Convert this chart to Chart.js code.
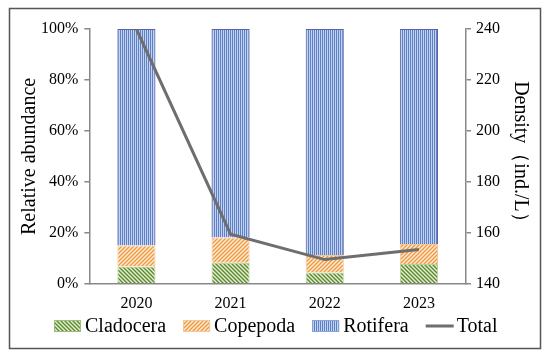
<!DOCTYPE html>
<html>
<head>
<meta charset="utf-8">
<script src="https://cdn.jsdelivr.net/npm/chart.js@4"></script>
<style>
  body { margin: 0; background: #fff; }
  #wrap { width: 550px; height: 359px; position: relative; }
</style>
</head>
<body>
<div id="wrap"><canvas id="myChart" width="550" height="359"></canvas></div>
<script>
const years = ['2020', '2021', '2022', '2023'];
const cladocera = [6.8, 8.3, 4.4, 7.8];
const copepoda = [8.2, 9.9, 6.9, 7.8];
const rotifera = [85.0, 81.8, 88.7, 84.4];
const total = [240, 159.5, 149.5, 153.5];
const pctTicks = [0, 20, 40, 60, 80, 100];
const densityTicks = [140, 160, 180, 200, 220, 240];

const font = 'Liberation Serif';

// hatch patterns
function makePattern(kind) {
    const c = document.createElement('canvas');
    const g = c.getContext('2d');
    if (kind === 'rot') {
        c.width = 2; c.height = 2;
        g.fillStyle = '#c2d4ef';
        g.fillRect(0, 0, 2, 2);
        g.fillStyle = '#5f80c6';
        g.fillRect(0, 0, 1, 2);
    } else {
        c.width = 4; c.height = 4;
        g.fillStyle = kind === 'clad' ? '#e6efd6' : '#fcecd2';
        g.fillRect(0, 0, 4, 4);
        g.strokeStyle = kind === 'clad' ? '#5a8a2c' : '#ee9a44';
        g.lineWidth = 1.4;
        g.beginPath();
        if (kind === 'clad') {
            g.moveTo(-1, -1); g.lineTo(5, 5);
            g.moveTo(-1, 3); g.lineTo(1, 5);
            g.moveTo(3, -1); g.lineTo(5, 1);
        } else {
            g.moveTo(-1, 5); g.lineTo(5, -1);
            g.moveTo(-1, 1); g.lineTo(1, -1);
            g.moveTo(3, 5); g.lineTo(5, 3);
        }
        g.stroke();
    }
    return g.createPattern(c, 'repeat');
}

const ctx = document.getElementById('myChart');
const pClad = makePattern('clad');
const pCope = makePattern('cope');
const pRot = makePattern('rot');

const framePlugin = {
    id: 'frame',
    beforeDraw(chart) {
        const c = chart.ctx;
        c.save();
        c.fillStyle = '#fff';
        c.fillRect(0, 0, chart.width, chart.height);
        c.strokeStyle = '#555';
        c.lineWidth = 1.5;
        c.strokeRect(9.5, 8.5, 531, 340);
        c.restore();
    }
};

// legend drawn by hand so the spacing matches the original
const legendPlugin = {
    id: 'bottomLegend',
    afterDraw(chart) {
        const c = chart.ctx;
        const dsets = chart.data.datasets;
        const cy = 326;
        c.save();
        c.font = '20px "' + font + '"';
        c.textBaseline = 'middle';
        c.fillStyle = '#000';
        let widths = dsets.map(ds => 31 + c.measureText(ds.label).width);
        let totalW = widths.reduce((a, b) => a + b, 0) + 17 * (dsets.length - 1);
        let x = Math.round(276 - totalW / 2);
        dsets.forEach(function (ds, i) {
            if (ds.type === 'line') {
                c.fillStyle = ds.borderColor;
                c.fillRect(x, cy - 1.5, 28, 3);
            } else {
                c.fillStyle = ds.backgroundColor;
                c.fillRect(x, cy - 6, 27, 12);
                c.strokeStyle = ds.legendBorder;
                c.lineWidth = 1;
                c.strokeRect(x + 0.5, cy - 5.5, 26, 11);
            }
            c.fillStyle = '#000';
            c.fillText(ds.label, x + 31, cy + 1);
            x += widths[i] + 17;
        });
        c.restore();
    }
};

new Chart(ctx, {
    type: 'bar',
    data: {
        labels: years,
        datasets: [
            {
                label: 'Cladocera',
                data: cladocera,
                backgroundColor: pClad,
                borderColor: '#b7d39a',
                borderWidth: 1,
                yAxisID: 'y',
                order: 1,
                legendBorder: '#9bbf78'
            },
            {
                label: 'Copepoda',
                data: copepoda,
                backgroundColor: pCope,
                borderColor: '#f3c79a',
                borderWidth: 1,
                yAxisID: 'y',
                order: 1,
                legendBorder: '#f3c79a'
            },
            {
                label: 'Rotifera',
                data: rotifera,
                backgroundColor: pRot,
                borderColor: '#5a64a4',
                borderWidth: 1,
                yAxisID: 'y',
                order: 1,
                legendBorder: '#8aa6d6'
            },
            {
                type: 'line',
                label: 'Total',
                data: total,
                borderColor: '#6e6e6e',
                borderWidth: 3,
                pointRadius: 0,
                tension: 0,
                yAxisID: 'y1',
                order: 0
            }
        ]
    },
    options: {
        responsive: false,
        animation: false,
        layout: { padding: { left: 7, right: 17, top: 29, bottom: 44 } },
        datasets: {
            bar: { barPercentage: 0.405, categoryPercentage: 1.0 }
        },
        plugins: {
            tooltip: { enabled: false },
            legend: { display: false }
        },
        scales: {
            x: {
                stacked: true,
                grid: { display: false },
                border: { color: '#888', width: 1.5 },
                ticks: { color: '#000', font: { family: font, size: 16 }, padding: 2 }
            },
            y: {
                stacked: true,
                min: 0,
                max: 100,
                afterBuildTicks: function (axis) {
                    axis.ticks = pctTicks.map(v => ({ value: v }));
                },
                grid: { drawOnChartArea: false, drawTicks: true, tickLength: 5, color: '#888', lineWidth: 1.5 },
                border: { color: '#888', width: 1.5 },
                ticks: {
                    color: '#000',
                    font: { family: font, size: 16 },
                    padding: 6,
                    callback: v => v + '%'
                },
                title: {
                    display: true,
                    text: 'Relative abundance',
                    color: '#000',
                    font: { family: font, size: 20 },
                    padding: { top: 11, bottom: -7 }
                }
            },
            y1: {
                position: 'right',
                min: 140,
                max: 240,
                afterBuildTicks: function (axis) {
                    axis.ticks = densityTicks.map(v => ({ value: v }));
                },
                grid: { drawOnChartArea: false, drawTicks: true, tickLength: 5, color: '#888', lineWidth: 1.5 },
                border: { color: '#888', width: 1.5 },
                ticks: { color: '#000', font: { family: font, size: 16 }, padding: 5 },
                title: {
                    display: true,
                    text: 'Density（ind./L）',
                    color: '#000',
                    font: { family: font, size: 20 },
                    padding: { top: 1, bottom: 3 }
                }
            }
        }
    },
    plugins: [framePlugin, legendPlugin]
});
</script>
</body>
</html>
